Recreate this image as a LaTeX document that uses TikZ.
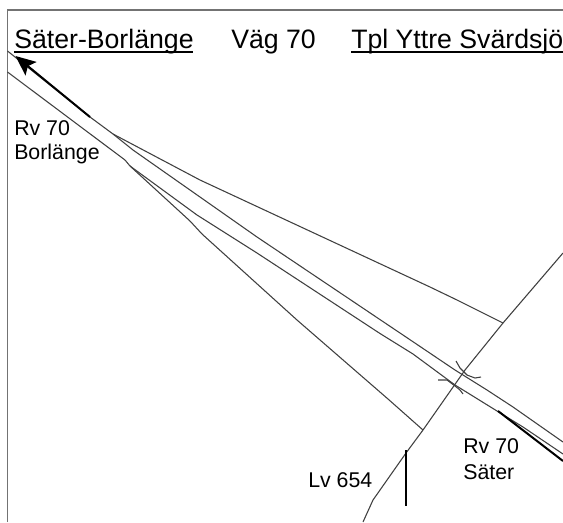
\documentclass[tikz,border=0pt]{standalone}
\usepackage{fontspec}
\setmainfont{Liberation Sans}
\usetikzlibrary{arrows.meta}
\tikzset{
  x=0.75pt,y=-0.75pt,
  road/.style={draw=black!75,line width=0.8pt,line join=round},
  frameline/.style={draw=black!55,line width=1.3pt},
  heavy/.style={draw=black,line width=1.5pt},
  title/.style={inner sep=0pt,anchor=base west,font=\fontsize{20pt}{22pt}\selectfont},
  label/.style={inner sep=0pt,anchor=base west,font=\fontsize{16pt}{18pt}\selectfont},
  rule/.style={draw=black,line width=1.5pt}
}
\begin{document}
\begin{tikzpicture}
\useasboundingbox (0,0) rectangle (563,522);
\fill[white] (0,0) rectangle (563,522);
\draw[frameline] (7.5,522) -- (7.5,9.7) -- (563,9.7);
% main carriageways
\draw[road] (7.5,51) -- (90,117) -- (113,134) -- (133,150) -- (257,237) -- (400,333) -- (455,370) -- (487,390) -- (513,407) -- (563,442);
\draw[road] (7.5,72) -- (125,160) -- (130,166) -- (197,215) -- (257,253) -- (380,333.5) -- (413,354) -- (455,385) -- (497,411) -- (523,427) -- (563,454);
% branches
\draw[road] (113,134) -- (200,180) -- (430,287) -- (457,300) -- (503,323);
\draw[road] (130,166) -- (190,221) -- (202,234) -- (297,320) -- (388,399) -- (423,430);
% crossing road
\draw[road] (563,253) -- (503,323) -- (465,370) -- (423,430) -- (406,453) -- (373,500) -- (363,522);
% bridge marks
\draw[road] (456,361) -- (460,368) -- (467,375) -- (475,378) -- (481,377);
\draw[road] (438,380) -- (447,380) -- (455,386) -- (460,390) -- (463,394);
% heavy markers
\draw[heavy,-{Stealth[length=15pt,width=13pt,inset=3pt]}] (90,117) -- (15.5,56);
\draw[heavy] (498,411) -- (563,461);
\draw[heavy] (406,450) -- (406,506);
% text
\node[title] (t1) at (14,48) {Säter-Borlänge};
\node[title] (t2) at (231,48) {Väg 70};
\node[title] (t3) at (351,48) {Tpl Yttre Svärdsjö};
\draw[rule] (14,52) -- (193,52);
\draw[rule] (351,52) -- (563,52);
\node[label] (l1) at (14,135) {Rv 70};
\node[label] (l2) at (14,159) {Borlänge};
\node[label] (l3) at (308,487) {Lv 654};
\node[label] (l4) at (463,453) {Rv 70};
\node[label] (l5) at (463,479) {Säter};
\end{tikzpicture}
\end{document}
